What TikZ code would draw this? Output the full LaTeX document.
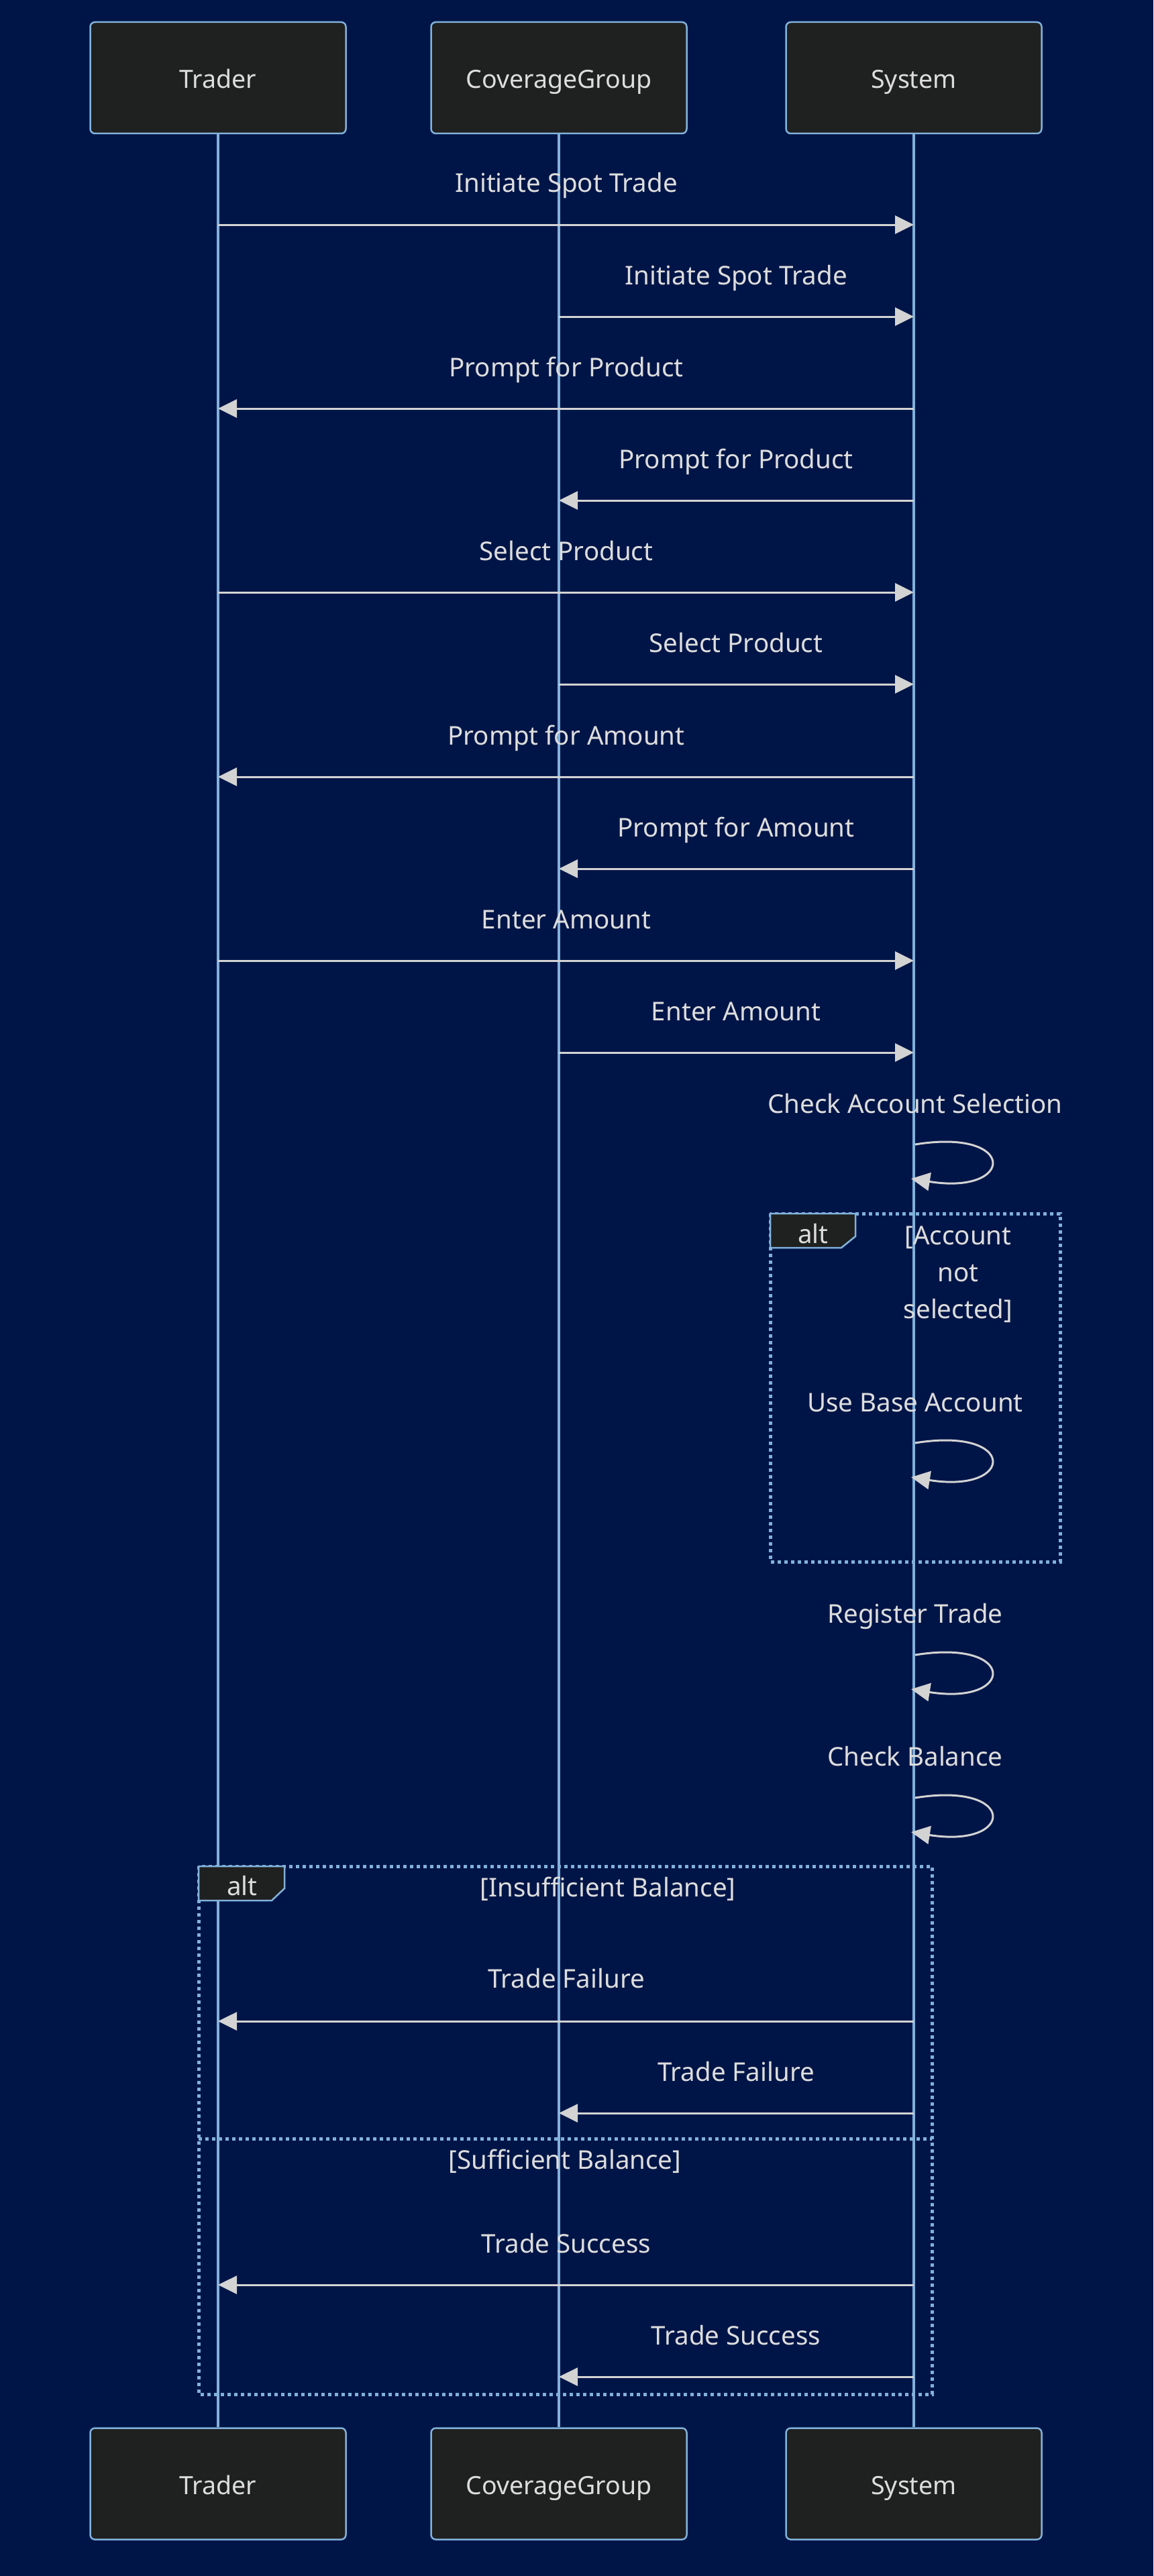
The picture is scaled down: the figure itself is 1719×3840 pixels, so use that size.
\documentclass[tikz,border=0pt]{standalone}
\usepackage{fontspec}
\setmainfont{Noto Sans}
\usetikzlibrary{arrows.meta}
\definecolor{bg}{HTML}{001547}
\definecolor{actfill}{HTML}{1F2020}
\definecolor{actline}{HTML}{81B1DB}
\definecolor{sig}{HTML}{D3D3D3}
\definecolor{txt}{HTML}{DDDDDD}
\begin{document}
\begin{tikzpicture}[x=1pt,y=-1pt,
 actor/.style={draw=actline, line width=2.5pt, fill=actfill, rounded corners=7pt, minimum width=381pt, minimum height=166pt, text=txt, font=\fontsize{37.5}{45}\selectfont, inner sep=0pt, text height=32pt, text depth=0pt},
 lbl/.style={text=txt, font=\fontsize{38.5}{46}\selectfont, anchor=base, inner sep=0pt},
 msg/.style={draw=sig, line width=3pt, -{Triangle[length=28pt,width=27pt,fill=sig]}},
 life/.style={draw=actline, line width=4.5pt},
 frame/.style={draw=actline, line width=5pt, dash pattern=on 5pt off 5pt},
 tab/.style={draw=actline, line width=2.5pt, fill=actfill},
]
\fill[bg] (0,0) rectangle (1719,3840);
\useasboundingbox (0,0) rectangle (1719,3840);

% actors
\node[actor] (tT) at (325,116) {Trader};
\node[actor] (tC) at (833,116) {CoverageGroup};
\node[actor] (tS) at (1362,116) {System};
\node[actor] (bT) at (325,3702.5) {Trader};
\node[actor] (bC) at (833,3702.5) {CoverageGroup};
\node[actor] (bS) at (1362,3702.5) {System};

% lifelines
\draw[life] (tT.south) -- (bT.north);
\draw[life] (tC.south) -- (bC.north);
\draw[life] (tS.south) -- (bS.north);

% alt frame 1
\draw[frame] (1148,1809) rectangle (1580,2328);
\draw[tab] (1148,1809) -- (1275,1809) -- (1275,1843) -- (1254,1860) -- (1148,1860) -- cycle;
\node[lbl] (alt1) at (1212,1853) {alt};
\node[lbl] (c1a) at (1428,1855) {[Account};
\node[lbl] (c1b) at (1428,1910) {not};
\node[lbl] (c1c) at (1428,1965) {selected]};

% alt frame 2
\draw[frame] (296,2782) rectangle (1389,3569);
\draw[frame] (296,3188) -- (1389,3188);
\draw[tab] (296,2782) -- (424,2782) -- (424,2815) -- (405,2833) -- (296,2833) -- cycle;
\node[lbl] (alt2) at (361,2825) {alt};
\node[lbl] (c2a) at (906,2827) {[Insufficient Balance]};
\node[lbl] (c2b) at (842,3233) {[Sufficient Balance]};

% messages
\node[lbl] (m1) at (844,287) {Initiate Spot Trade};
\draw[msg] (tT.center |- 0,335) -- (tS.center |- 0,335);
\node[lbl] (m2) at (1097,424) {Initiate Spot Trade};
\draw[msg] (tC.center |- 0,472) -- (tS.center |- 0,472);
\node[lbl] (m3) at (844,561) {Prompt for Product};
\draw[msg] (tS.center |- 0,609) -- (tT.center |- 0,609);
\node[lbl] (m4) at (1097,698) {Prompt for Product};
\draw[msg] (tS.center |- 0,746) -- (tC.center |- 0,746);
\node[lbl] (m5) at (844,835) {Select Product};
\draw[msg] (tT.center |- 0,883) -- (tS.center |- 0,883);
\node[lbl] (m6) at (1097,972) {Select Product};
\draw[msg] (tC.center |- 0,1020) -- (tS.center |- 0,1020);
\node[lbl] (m7) at (844,1110) {Prompt for Amount};
\draw[msg] (tS.center |- 0,1158) -- (tT.center |- 0,1158);
\node[lbl] (m8) at (1097,1247) {Prompt for Amount};
\draw[msg] (tS.center |- 0,1295) -- (tC.center |- 0,1295);
\node[lbl] (m9) at (844,1384) {Enter Amount};
\draw[msg] (tT.center |- 0,1432) -- (tS.center |- 0,1432);
\node[lbl] (m10) at (1097,1521) {Enter Amount};
\draw[msg] (tC.center |- 0,1569) -- (tS.center |- 0,1569);

% self messages
\node[lbl] (s1) at (1364,1659) {Check Account Selection};
\draw[msg] ([xshift=2pt]tS.center |- 0,1706) .. controls +(153,-25) and +(155,25) .. ([xshift=-4pt]tS.center |- 0,1757);
\node[lbl] (s2) at (1364,2104) {Use Base Account};
\draw[msg] ([xshift=2pt]tS.center |- 0,2151) .. controls +(153,-25) and +(155,25) .. ([xshift=-4pt]tS.center |- 0,2202);
\node[lbl] (s3) at (1364,2419) {Register Trade};
\draw[msg] ([xshift=2pt]tS.center |- 0,2467) .. controls +(153,-25) and +(155,25) .. ([xshift=-4pt]tS.center |- 0,2518);
\node[lbl] (s4) at (1364,2632) {Check Balance};
\draw[msg] ([xshift=2pt]tS.center |- 0,2680) .. controls +(153,-25) and +(155,25) .. ([xshift=-4pt]tS.center |- 0,2731);

% alt branch messages
\node[lbl] (f1) at (844,2963) {Trade Failure};
\draw[msg] (tS.center |- 0,3013) -- (tT.center |- 0,3013);
\node[lbl] (f2) at (1097,3102) {Trade Failure};
\draw[msg] (tS.center |- 0,3150) -- (tC.center |- 0,3150);
\node[lbl] (g1) at (844,3358) {Trade Success};
\draw[msg] (tS.center |- 0,3406) -- (tT.center |- 0,3406);
\node[lbl] (g2) at (1097,3495) {Trade Success};
\draw[msg] (tS.center |- 0,3543) -- (tC.center |- 0,3543);
\end{tikzpicture}
\end{document}
